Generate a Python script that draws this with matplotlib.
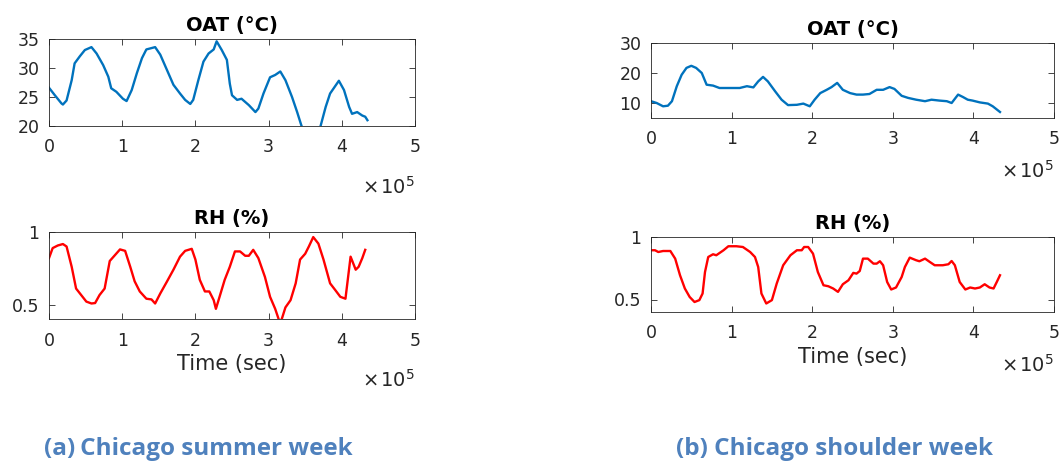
import numpy as np
import matplotlib
matplotlib.use("Agg")
import matplotlib.pyplot as plt
from matplotlib.ticker import FuncFormatter

plt.rcParams['font.family'] = ['DejaVu Sans']

# ---- Chicago summer week ----
summer_t = [0.00, 0.08, 0.17, 0.19, 0.24, 0.31, 0.35, 0.42, 0.49, 0.58, 0.65, 0.74, 0.81, 0.85,
            0.92, 1.01, 1.06, 1.13, 1.20, 1.27, 1.33, 1.45, 1.52, 1.61, 1.70, 1.79, 1.86, 1.93,
            1.97, 2.04, 2.11, 2.18, 2.25, 2.29, 2.36, 2.43, 2.47, 2.50, 2.57, 2.63, 2.73, 2.82,
            2.86, 2.93, 3.02, 3.09, 3.16, 3.23, 3.32, 3.39, 3.45, 3.52, 3.60, 3.66, 3.71, 3.78,
            3.84, 3.96, 4.03, 4.10, 4.14, 4.21, 4.28, 4.32, 4.35]
summer_oat = [26.6, 25.3, 23.9, 23.7, 24.4, 27.9, 30.8, 32.0, 33.1, 33.6, 32.5, 30.5, 28.5, 26.5,
              25.9, 24.7, 24.3, 26.2, 29.1, 31.7, 33.2, 33.6, 32.3, 29.7, 27.1, 25.6, 24.5, 23.8,
              24.5, 27.9, 31.1, 32.5, 33.2, 34.6, 33.1, 31.4, 27.3, 25.3, 24.5, 24.7, 23.6, 22.4,
              23.0, 25.6, 28.4, 28.8, 29.4, 27.9, 25.0, 22.4, 20.0, 18.6, 17.8, 18.6, 20.0, 23.3,
              25.6, 27.8, 26.2, 23.3, 22.1, 22.4, 21.8, 21.6, 21.0]

summer_rh_t = [0.00, 0.05, 0.12, 0.19, 0.24, 0.31, 0.37, 0.44, 0.51, 0.58, 0.63, 0.69, 0.76, 0.83,
               0.90, 0.97, 1.04, 1.11, 1.17, 1.24, 1.33, 1.40, 1.45, 1.52, 1.61, 1.70, 1.79, 1.86,
               1.95, 2.00, 2.06, 2.13, 2.19, 2.25, 2.28, 2.33, 2.40, 2.47, 2.54, 2.61, 2.68, 2.73,
               2.79, 2.86, 2.95, 3.02, 3.09, 3.15, 3.18, 3.23, 3.30, 3.37, 3.43, 3.50, 3.55, 3.61,
               3.68, 3.75, 3.84, 3.91, 3.98, 4.05, 4.12, 4.19, 4.23, 4.28, 4.32]
summer_rh = [0.82, 0.889, 0.907, 0.917, 0.90, 0.76, 0.61, 0.565, 0.52, 0.507, 0.51, 0.565, 0.61,
             0.80, 0.84, 0.88, 0.87, 0.76, 0.66, 0.59, 0.54, 0.535, 0.507, 0.576, 0.657, 0.74,
             0.83, 0.87, 0.884, 0.81, 0.67, 0.59, 0.59, 0.53, 0.47, 0.553, 0.67, 0.76, 0.866,
             0.866, 0.836, 0.836, 0.877, 0.82, 0.69, 0.553, 0.47, 0.38, 0.40, 0.48, 0.53, 0.646,
             0.81, 0.85, 0.90, 0.965, 0.92, 0.81, 0.646, 0.60, 0.553, 0.54, 0.83, 0.74, 0.76,
             0.82, 0.877]

# ---- Chicago shoulder week ----
shoulder_t = [0.00, 0.07, 0.15, 0.21, 0.26, 0.32, 0.38, 0.44, 0.50, 0.56, 0.63, 0.69, 0.77, 0.85,
              0.98, 1.10, 1.19, 1.27, 1.33, 1.39, 1.45, 1.54, 1.62, 1.70, 1.81, 1.89, 1.97, 2.03,
              2.10, 2.18, 2.24, 2.31, 2.38, 2.47, 2.55, 2.63, 2.71, 2.80, 2.88, 2.96, 3.02, 3.11,
              3.19, 3.29, 3.40, 3.48, 3.58, 3.67, 3.73, 3.81, 3.87, 3.93, 3.99, 4.08, 4.18, 4.24,
              4.33]
shoulder_oat = [10.6, 10.0, 8.9, 9.1, 10.6, 15.6, 19.4, 21.7, 22.4, 21.7, 20.0, 16.1, 15.8, 15.0,
                15.0, 15.0, 15.6, 15.2, 17.2, 18.7, 17.2, 13.9, 11.1, 9.3, 9.4, 9.8, 8.9, 11.1,
                13.3, 14.4, 15.3, 16.7, 14.4, 13.3, 12.8, 12.8, 13.0, 14.4, 14.4, 15.3, 14.7, 12.4,
                11.7, 11.1, 10.6, 11.1, 10.8, 10.6, 10.0, 12.8, 12.0, 11.1, 10.8, 10.2, 9.8, 8.9,
                7.0]

shoulder_rh_t = [0.00, 0.05, 0.09, 0.15, 0.24, 0.30, 0.36, 0.42, 0.48, 0.54, 0.60, 0.64, 0.67,
                 0.71, 0.77, 0.81, 0.90, 0.96, 1.06, 1.14, 1.23, 1.29, 1.33, 1.37, 1.43, 1.50,
                 1.56, 1.64, 1.73, 1.81, 1.87, 1.90, 1.95, 2.01, 2.07, 2.14, 2.20, 2.26, 2.32,
                 2.38, 2.45, 2.51, 2.55, 2.59, 2.63, 2.69, 2.76, 2.80, 2.84, 2.88, 2.93, 2.98,
                 3.04, 3.11, 3.15, 3.21, 3.29, 3.33, 3.40, 3.46, 3.52, 3.62, 3.69, 3.73, 3.77,
                 3.83, 3.90, 3.96, 4.02, 4.08, 4.14, 4.20, 4.25, 4.29, 4.33]
shoulder_rh = [0.894, 0.894, 0.88, 0.888, 0.888, 0.827, 0.694, 0.588, 0.52, 0.48, 0.495, 0.548,
               0.72, 0.84, 0.862, 0.854, 0.894, 0.926, 0.926, 0.92, 0.88, 0.84, 0.76, 0.548, 0.468,
               0.495, 0.628, 0.774, 0.854, 0.894, 0.894, 0.92, 0.92, 0.867, 0.72, 0.614, 0.606,
               0.588, 0.561, 0.622, 0.654, 0.713, 0.707, 0.728, 0.827, 0.827, 0.787, 0.787, 0.806,
               0.774, 0.64, 0.58, 0.596, 0.68, 0.76, 0.835, 0.814, 0.806, 0.827, 0.80, 0.774,
               0.774, 0.782, 0.808, 0.774, 0.64, 0.58, 0.596, 0.588, 0.596, 0.622, 0.596, 0.588,
               0.64, 0.694]

xticks = [0, 1, 2, 3, 4, 5]
BLUE = '#0072BD'
RED = '#FF0000'
AXC = '#262626'
CAP = '#4F81BD'

W, H = 1063, 466
fig = plt.figure(figsize=(W / 100, H / 100), dpi=100)


def make_axes(left, top, right, bottom):
    return fig.add_axes([left / W, 1 - bottom / H, (right - left) / W, (bottom - top) / H])


def style(ax, title, ylim, yticks, xlabel=None):
    ax.set_xlim(0, 5e5)
    ax.set_ylim(*ylim)
    ax.set_xticks([v * 1e5 for v in xticks])
    ax.xaxis.set_major_formatter(FuncFormatter(lambda v, p: f"{v / 1e5:g}"))
    ax.set_yticks(yticks)
    ax.yaxis.set_major_formatter(FuncFormatter(lambda v, p: f"{v:g}"))
    ax.tick_params(direction='in', length=4, width=0.6, colors=AXC, labelsize=12.5,
                   top=True, right=True)
    ax.tick_params(axis='x', pad=9)
    ax.tick_params(axis='y', pad=7)
    for s in ax.spines.values():
        s.set_color(AXC)
        s.set_linewidth(0.6)
    ax.set_title(title, fontsize=14, fontweight='bold', color='black', pad=6)
    if xlabel:
        ax.set_xlabel(xlabel, fontsize=15, color=AXC, labelpad=3)
    ax.text(1.0, -0.70, "\u00d7\u200a10$^{5}$", transform=ax.transAxes,
            ha='right', va='center', fontsize=14, color=AXC)


# summer
ax1 = make_axes(49, 39, 415, 126)
ax1.plot(np.array(summer_t) * 1e5, summer_oat, color=BLUE, lw=1.7)
style(ax1, 'OAT (°C)', (20, 35), [20, 25, 30, 35])

ax2 = make_axes(49, 232, 415, 319)
ax2.plot(np.array(summer_rh_t) * 1e5, summer_rh, color=RED, lw=1.7)
style(ax2, 'RH (%)', (0.4, 1.0), [0.5, 1], xlabel='Time (sec)')

# shoulder
ax3 = make_axes(651, 43, 1054, 118)
ax3.plot(np.array(shoulder_t) * 1e5, shoulder_oat, color=BLUE, lw=1.7)
style(ax3, 'OAT (°C)', (5, 30), [10, 20, 30])

ax4 = make_axes(651, 237, 1054, 312)
ax4.plot(np.array(shoulder_rh_t) * 1e5, shoulder_rh, color=RED, lw=1.7)
style(ax4, 'RH (%)', (0.4, 1.0), [0.5, 1], xlabel='Time (sec)')

fig.text(44 / W, 1 - 449 / H, '(a)\u2009Chicago summer week', family=['Open Sans', 'DejaVu Sans'],
         fontweight='bold', fontsize=17.5, color=CAP, ha='left', va='center')
fig.text(676 / W, 1 - 449 / H, '(b) Chicago shoulder week', family=['Open Sans', 'DejaVu Sans'],
         fontweight='bold', fontsize=17.5, color=CAP, ha='left', va='center')

fig.savefig('out.png', dpi=100)
